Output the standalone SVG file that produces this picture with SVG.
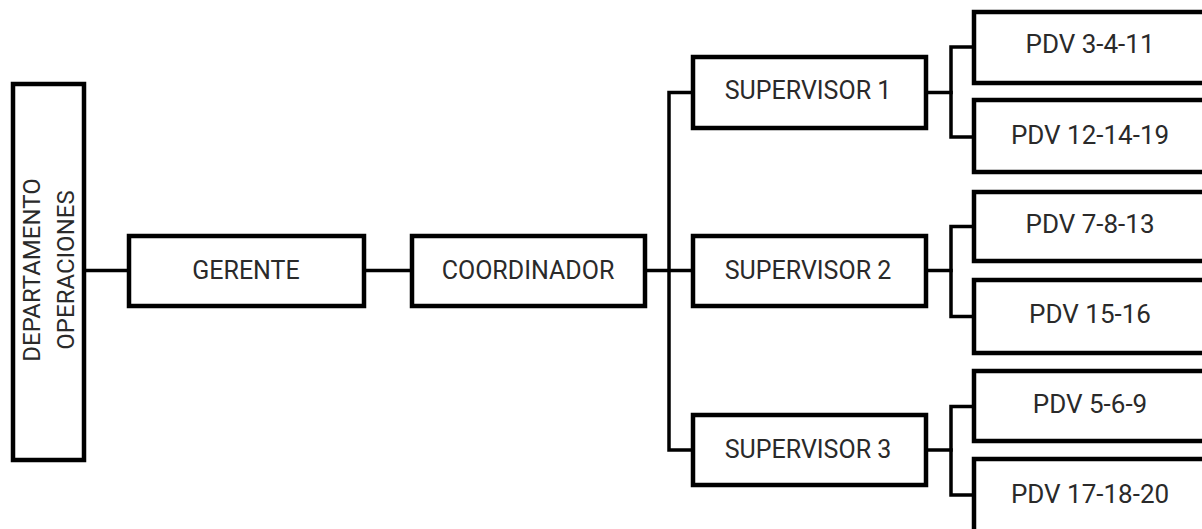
<svg xmlns="http://www.w3.org/2000/svg" width="1202" height="529" viewBox="0 0 1202 529">
  <style>
    .box { fill: #ffffff; stroke: #000000; stroke-width: 4.5; }
    .link { fill: none; stroke: #000000; stroke-width: 3.5; stroke-linejoin: miter; stroke-linecap: square; }
    .label { font-family: Roboto, "Liberation Sans", sans-serif; font-size: 25px; fill: #2a2a2a; text-anchor: middle; }
    .side { font-size: 24px; }
    .pdv { font-size: 26px; }
  </style>
  <rect width="1202" height="529" fill="#ffffff"/>

  <!-- connectors -->
  <g id="connectors" class="link">
    <path d="M84 270.5 H129"/>
    <path d="M364 270.5 H412"/>
    <path d="M645 270.5 H693"/>
    <path d="M693 92.5 H669 V450 H693"/>
    <path d="M926 92.5 H951"/>
    <path d="M974 47 H951 V137 H974"/>
    <path d="M926 270.5 H951"/>
    <path d="M974 226.5 H951 V316.5 H974"/>
    <path d="M926 450 H951"/>
    <path d="M974 406.5 H951 V495 H974"/>
  </g>

  <!-- department -->
  <g id="departamento">
    <rect class="box" x="13" y="84" width="71" height="376"/>
    <text class="label side" transform="translate(39.5,270) rotate(-90)">DEPARTAMENTO</text>
    <text class="label side" transform="translate(73.5,270) rotate(-90)">OPERACIONES</text>
  </g>

  <g id="gerente">
    <rect class="box" x="129" y="236" width="235" height="70"/>
    <text class="label" x="246" y="279">GERENTE</text>
  </g>

  <g id="coordinador">
    <rect class="box" x="412" y="236" width="233" height="70"/>
    <text class="label" x="528" y="279">COORDINADOR</text>
  </g>

  <g id="supervisor-1">
    <rect class="box" x="693" y="57" width="233" height="71"/>
    <text class="label" x="808" y="99">SUPERVISOR 1</text>
  </g>

  <g id="supervisor-2">
    <rect class="box" x="693" y="236" width="233" height="70"/>
    <text class="label" x="808" y="279">SUPERVISOR 2</text>
  </g>

  <g id="supervisor-3">
    <rect class="box" x="693" y="415" width="233" height="70"/>
    <text class="label" x="808" y="458">SUPERVISOR 3</text>
  </g>

  <!-- points of sale (boxes run past the right edge) -->
  <g id="pdv-3-4-11">
    <rect class="box" x="974" y="12" width="240" height="71"/>
    <text class="label pdv" x="1090" y="53">PDV 3-4-11</text>
  </g>
  <g id="pdv-12-14-19">
    <rect class="box" x="974" y="100" width="240" height="72"/>
    <text class="label pdv" x="1090" y="144">PDV 12-14-19</text>
  </g>
  <g id="pdv-7-8-13">
    <rect class="box" x="974" y="192" width="240" height="69"/>
    <text class="label pdv" x="1090" y="233">PDV 7-8-13</text>
  </g>
  <g id="pdv-15-16">
    <rect class="box" x="974" y="280" width="240" height="73"/>
    <text class="label pdv" x="1090" y="323">PDV 15-16</text>
  </g>
  <g id="pdv-5-6-9">
    <rect class="box" x="974" y="371" width="240" height="70"/>
    <text class="label pdv" x="1090" y="412.5">PDV 5-6-9</text>
  </g>
  <g id="pdv-17-18-20">
    <rect class="box" x="974" y="459" width="240" height="100"/>
    <text class="label pdv" x="1090" y="503">PDV 17-18-20</text>
  </g>
</svg>
